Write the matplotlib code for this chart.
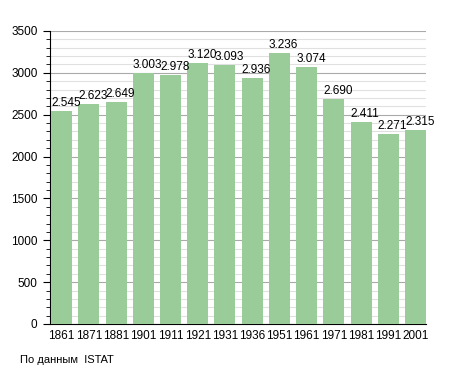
import matplotlib
matplotlib.use('Agg')
import matplotlib.pyplot as plt
from matplotlib.ticker import MultipleLocator
import numpy as np

plt.rcParams['font.family'] = ['Liberation Sans', 'DejaVu Sans']

years = ['1861', '1871', '1881', '1901', '1911', '1921', '1931',
         '1936', '1951', '1961', '1971', '1981', '1991', '2001']
population = [2545, 2623, 2649, 3003, 2978, 3120, 3093,
              2936, 3236, 3074, 2690, 2411, 2271, 2315]
labels = ['2.545', '2.623', '2.649', '3.003', '2.978', '3.120', '3.093',
          '2.936', '3.236', '3.074', '2.690', '2.411', '2.271', '2.315']

fig = plt.figure(figsize=(4.55, 3.73), dpi=100)
ax = fig.add_axes([50/455, 1-324/373, 376/455, 293/373])

x = np.arange(len(years))
w = 0.77
ax.bar(x, population, width=w, align='edge', color='#99cc99', zorder=3)

for xi, v, lab in zip(x, population, labels):
  ax.text(xi, v + 25, lab, ha='left', va='bottom', fontsize=8.5, zorder=4)

ax.set_xlim(-0.04, len(years) - 1 + w)
ax.set_ylim(0, 3500)
ax.yaxis.set_major_locator(MultipleLocator(500))
ax.yaxis.set_minor_locator(MultipleLocator(100))
ax.grid(axis='y', which='major', color='#aaaaaa', linewidth=0.8, zorder=1)
ax.grid(axis='y', which='minor', color='#e0e0e0', linewidth=0.8, zorder=1)

ax.set_xticks(x + w/2)
ax.set_xticklabels(years)
ax.tick_params(axis='x', length=0, labelsize=8.5, pad=4)
ax.tick_params(axis='y', which='major', length=5, labelsize=8.5, pad=4)
ax.tick_params(axis='y', which='minor', length=3)

for s in ['top', 'right']:
  ax.spines[s].set_visible(False)

fig.text(20/455, 1-360/373, 'По данным  ISTAT', fontsize=8, va='center')

plt.savefig('out.png', dpi=100)
